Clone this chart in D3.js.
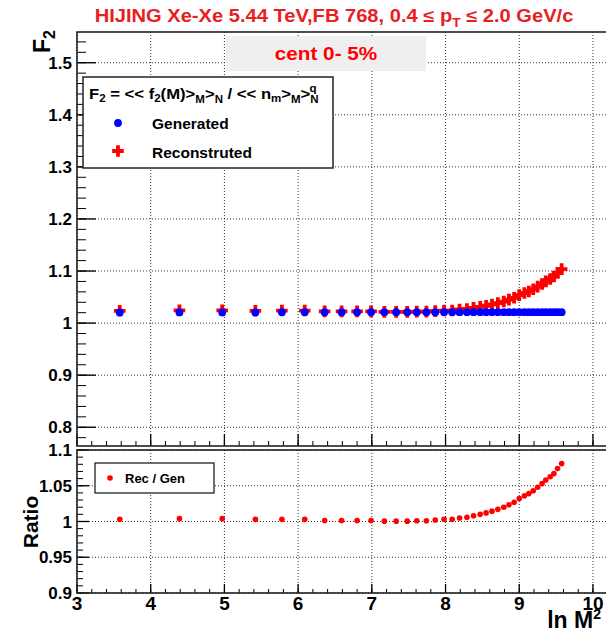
<!DOCTYPE html>
<html>
<head>
<meta charset="utf-8">
<script src="https://cdn.jsdelivr.net/npm/d3@7"></script>
<style>
  html, body { margin: 0; padding: 0; background: #fff; }
  svg { display: block; }
  text { font-family: "Liberation Sans", Arial, Helvetica, sans-serif; font-weight: bold; }
</style>
</head>
<body>
<svg id="chart" width="606" height="632"></svg>
<script>
// ---------------- data ----------------
const lnM2 = [3.58, 4.39, 4.97, 5.42, 5.78, 6.09, 6.36, 6.59, 6.80, 6.99,
              7.17, 7.33, 7.48, 7.61, 7.74, 7.86, 7.98, 8.09, 8.19, 8.29,
              8.38, 8.47, 8.55, 8.63, 8.71, 8.79, 8.86, 8.93, 9.00, 9.07,
              9.13, 9.19, 9.25, 9.31, 9.36, 9.42, 9.47, 9.52, 9.575];
const generated = [1.0205, 1.0205, 1.0205, 1.0205, 1.021, 1.021, 1.021, 1.021, 1.021, 1.021,
                   1.021, 1.021, 1.021, 1.021, 1.021, 1.021, 1.021, 1.021, 1.021, 1.021,
                   1.021, 1.021, 1.021, 1.021, 1.021, 1.021, 1.021, 1.021, 1.021, 1.021,
                   1.021, 1.021, 1.021, 1.021, 1.021, 1.021, 1.021, 1.021, 1.021];
const reconstructed = [1.0236, 1.0246, 1.0246, 1.0236, 1.0241, 1.0241, 1.0225, 1.0225, 1.0225, 1.0225,
                       1.0215, 1.0215, 1.0215, 1.0220, 1.0220, 1.0230, 1.0241, 1.0241, 1.0261, 1.0271,
                       1.0292, 1.0312, 1.0333, 1.0358, 1.0384, 1.0414, 1.0450, 1.0486, 1.0537, 1.0578,
                       1.0608, 1.0649, 1.0700, 1.0751, 1.0802, 1.0848, 1.0894, 1.0966, 1.1037];
const ratio = [1.003, 1.004, 1.004, 1.003, 1.003, 1.003, 1.0015, 1.0015, 1.0015, 1.0015,
               1.0005, 1.0005, 1.0005, 1.001, 1.001, 1.002, 1.003, 1.003, 1.005, 1.006,
               1.008, 1.010, 1.012, 1.0145, 1.017, 1.020, 1.0235, 1.027, 1.032, 1.036,
               1.039, 1.043, 1.048, 1.053, 1.058, 1.0625, 1.067, 1.074, 1.081];
const xTicks = [3, 4, 5, 6, 7, 8, 9, 10];
const topYTicks = [0.8, 0.9, 1, 1.1, 1.2, 1.3, 1.4, 1.5];
const ratioYTicks = [0.9, 0.95, 1, 1.05, 1.1];
const topYTickLabels = ["0.8", "0.9", "1", "1.1", "1.2", "1.3", "1.4", "1.5"];
const ratioYTickLabels = ["0.9", "0.95", "1", "1.05", "1.1"];

// ---------------- layout ----------------
const svg = d3.select("#chart");
const L = 77, R = 607.7;
const topT = 32, topB = 446;
const botT = 450, botB = 593;

const x = d3.scaleLinear().domain([3, 10.2]).range([L, R]);
const yTop = d3.scaleLinear().domain([0.764, 1.559]).range([topB, topT]);
const yBot = d3.scaleLinear().domain([0.9, 1.1]).range([botB, botT]);

const RED = "#ff0000", BLUE = "#0000ff";

function panel(y, T, B, yTicks, yLabels, yMinorStep, yMajLen, yMinLen, xMajLen, xMinLen) {
  const g = svg.append("g");
  g.selectAll(".gx").data(xTicks).enter().append("line")
    .attr("x1", d => x(d)).attr("x2", d => x(d)).attr("y1", T).attr("y2", B)
    .attr("stroke", "#333").attr("stroke-width", 1).attr("stroke-dasharray", "1,2");
  g.selectAll(".gy").data(yTicks).enter().append("line")
    .attr("x1", L).attr("x2", R).attr("y1", d => y(d)).attr("y2", d => y(d))
    .attr("stroke", "#333").attr("stroke-width", 1).attr("stroke-dasharray", "1,2");
  const [d0, d1] = y.domain();
  const minors = d3.range(Math.ceil(d0 / yMinorStep - 1e-6), Math.floor(d1 / yMinorStep + 1e-6) + 1)
    .map(i => +(i * yMinorStep).toFixed(4));
  g.selectAll(".ym").data(minors).enter().append("line")
    .attr("x1", L).attr("x2", L + yMinLen).attr("y1", d => y(d)).attr("y2", d => y(d))
    .attr("stroke", "#000").attr("stroke-width", 1);
  g.selectAll(".yM").data(yTicks).enter().append("line")
    .attr("x1", L).attr("x2", L + yMajLen).attr("y1", d => y(d)).attr("y2", d => y(d))
    .attr("stroke", "#000").attr("stroke-width", 1.3);
  const xm = d3.range(15, 51).map(i => i / 5);
  g.selectAll(".xm").data(xm).enter().append("line")
    .attr("x1", d => x(d)).attr("x2", d => x(d)).attr("y1", B).attr("y2", B - xMinLen)
    .attr("stroke", "#000").attr("stroke-width", 1);
  g.selectAll(".xM").data(xTicks).enter().append("line")
    .attr("x1", d => x(d)).attr("x2", d => x(d)).attr("y1", B).attr("y2", B - xMajLen)
    .attr("stroke", "#000").attr("stroke-width", 1.3);
  g.append("rect").attr("x", L).attr("y", T).attr("width", R - L + 5).attr("height", B - T)
    .attr("fill", "none").attr("stroke", "#222").attr("stroke-width", 1.6);
  g.selectAll(".yl").data(yTicks).enter().append("text")
    .attr("x", L - 5).attr("y", d => y(d)).attr("dy", "0.36em")
    .attr("text-anchor", "end").attr("font-size", 17).attr("fill", "#000")
    .text((d, i) => yLabels[i]);
  return g;
}

panel(yTop, topT, topB, topYTicks, topYTickLabels, 0.02, 19, 9, 12, 5);
panel(yBot, botT, botB, ratioYTicks, ratioYTickLabels, 0.01, 12, 6, 9, 4);

svg.selectAll(".xl").data(xTicks).enter().append("text")
  .attr("x", d => x(d)).attr("y", 610)
  .attr("text-anchor", "middle").attr("font-size", 19).attr("fill", "#000")
  .text(d => d);

// ---------------- top panel data ----------------
const crossPath = "M-1.9,-5.8H1.9V-1.9H5.8V1.9H1.9V5.8H-1.9V1.9H-5.8V-1.9H-1.9Z";
svg.append("g").selectAll("path").data(lnM2).enter().append("path")
  .attr("d", crossPath)
  .attr("transform", (d, i) => `translate(${x(d)},${yTop(reconstructed[i])})`)
  .attr("fill", RED);
svg.append("g").selectAll("circle").data(lnM2).enter().append("circle")
  .attr("cx", d => x(d)).attr("cy", (d, i) => yTop(generated[i])).attr("r", 3.9)
  .attr("fill", BLUE);

// ---------------- ratio panel data ----------------
svg.append("g").selectAll("circle").data(lnM2).enter().append("circle")
  .attr("cx", d => x(d)).attr("cy", (d, i) => yBot(ratio[i])).attr("r", 2.8)
  .attr("fill", RED);

// ---------------- title ----------------
const title = svg.append("g").attr("transform", "translate(334,22) scale(1.15,1)")
  .append("text").attr("x", 0).attr("y", 0).attr("text-anchor", "middle")
  .attr("font-size", 17.5).attr("fill", "#e8201f");
title.append("tspan").text("HIJING Xe-Xe 5.44 TeV,FB 768, 0.4 \u2264 p");
title.append("tspan").attr("font-size", 12).attr("dy", 5).text("T");
title.append("tspan").attr("dy", -5).text(" \u2264 2.0 GeV/c");

// cent box
svg.append("rect").attr("x", 226).attr("y", 36).attr("width", 200).attr("height", 35).attr("fill", "#efefef");
svg.append("g").attr("transform", "translate(326,60) scale(1.12,1)")
  .append("text").attr("text-anchor", "middle")
  .attr("font-size", 18.5).attr("fill", RED).text("cent 0- 5%");

// legend top
svg.append("rect").attr("x", 83).attr("y", 77).attr("width", 250).attr("height", 91)
  .attr("fill", "#fff").attr("stroke", "#222").attr("stroke-width", 1.5);
const f = svg.append("g").attr("transform", "translate(89,99) scale(1.15,1)")
  .append("text").attr("font-size", 14.5).attr("fill", "#000");
f.append("tspan").text("F");
f.append("tspan").attr("font-size", 10).attr("dy", 3).text("2");
f.append("tspan").attr("dy", -3).text(" = << f");
f.append("tspan").attr("font-size", 10).attr("dy", 3).text("2");
f.append("tspan").attr("dy", -3).text("(M)>");
f.append("tspan").attr("font-size", 10).attr("dy", 4).text("M");
f.append("tspan").attr("dy", -4).text(">");
f.append("tspan").attr("font-size", 10).attr("dy", 4).text("N");
f.append("tspan").attr("dy", -4).text(" / << n");
f.append("tspan").attr("font-size", 10).attr("dy", 3).text("m");
f.append("tspan").attr("dy", -3).text(">");
f.append("tspan").attr("font-size", 10).attr("dy", 4).text("M");
f.append("tspan").attr("dy", -4).text(">");
f.append("tspan").attr("font-size", 10).attr("dy", 4).text("N");
f.append("tspan").attr("font-size", 10).attr("dx", -8).attr("dy", -11).text("q");

svg.append("circle").attr("cx", 118).attr("cy", 123).attr("r", 3.9).attr("fill", BLUE);
svg.append("text").attr("x", 152).attr("y", 129).attr("font-size", 15.5).attr("fill", "#000").text("Generated");
svg.append("path").attr("d", crossPath).attr("transform", "translate(118,151)").attr("fill", RED);
svg.append("text").attr("x", 152).attr("y", 158).attr("font-size", 15.5).attr("fill", "#000").text("Reconstruted");

// legend bottom
svg.append("rect").attr("x", 95).attr("y", 463).attr("width", 119).attr("height", 30)
  .attr("fill", "#fff").attr("stroke", "#222").attr("stroke-width", 1.3);
svg.append("circle").attr("cx", 110).attr("cy", 478).attr("r", 2.8).attr("fill", RED);
svg.append("text").attr("x", 125).attr("y", 483).attr("font-size", 13).attr("fill", "#000").text("Rec / Gen");

// axis titles
const fy = svg.append("text").attr("transform", "translate(50,30) rotate(-90)")
  .attr("text-anchor", "end").attr("font-size", 23).attr("fill", "#000");
fy.append("tspan").text("F");
fy.append("tspan").attr("font-size", 16).attr("dy", 5).text("2");

svg.append("text").attr("transform", "translate(38,522) rotate(-90)")
  .attr("text-anchor", "middle").attr("font-size", 21).attr("fill", "#000").text("Ratio");

const xt = svg.append("text").attr("x", 601).attr("y", 628).attr("text-anchor", "end")
  .attr("font-size", 23).attr("fill", "#000");
xt.append("tspan").text("ln M");
xt.append("tspan").attr("font-size", 14).attr("dy", -9).text("2");
</script>
</body>
</html>
